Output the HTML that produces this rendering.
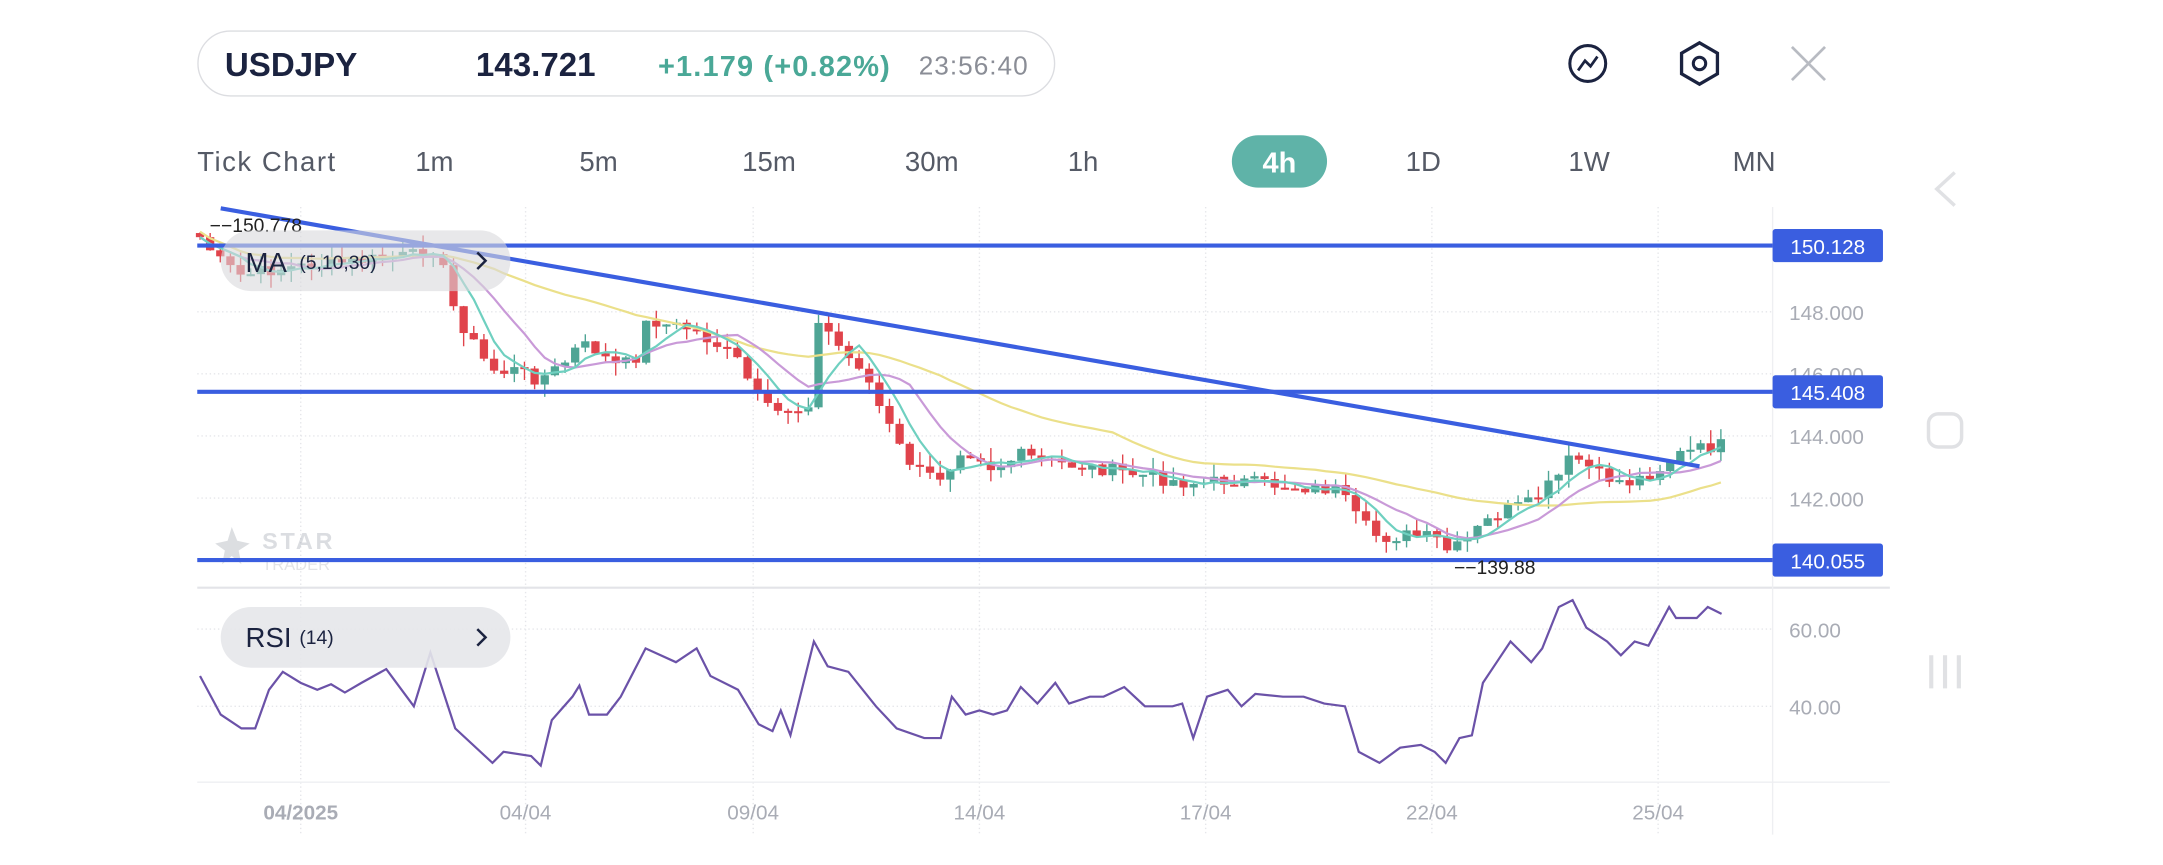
<!DOCTYPE html>
<html><head><meta charset="utf-8"><style>
html,body{margin:0;padding:0;background:#fff;}
svg{display:block;font-family:"Liberation Sans",sans-serif;}
</style></head><body>
<svg id="s" width="2163" height="865" viewBox="0 0 1568 627" xmlns="http://www.w3.org/2000/svg">
<rect width="1568" height="627" fill="#fff"/>
<rect x="143.5" y="22.5" width="621" height="47" rx="23.5" fill="#fff" stroke="#dcdde1"/>
<text x="163" y="55" font-size="24" font-weight="bold" fill="#1b2340">USDJPY</text>
<text x="345" y="55" font-size="24" font-weight="bold" fill="#1b2340">143.721</text>
<text x="477" y="55" font-size="21" font-weight="bold" fill="#4aa897" textLength="168">+1.179 (+0.82%)</text>
<text x="666" y="54" font-size="19" fill="#8a8d96" textLength="79">23:56:40</text>
<circle cx="1151" cy="46" r="13" fill="none" stroke="#1b2340" stroke-width="2.2"/>
<path d="M1144 51 L1149 44 L1153 48 L1158 41" fill="none" stroke="#1b2340" stroke-width="2"/>
<path d="M1232 31 L1245 38.5 L1245 53.5 L1232 61 L1219 53.5 L1219 38.5 Z" fill="none" stroke="#1b2340" stroke-width="2.4"/>
<circle cx="1232" cy="46" r="4.5" fill="none" stroke="#1b2340" stroke-width="2.2"/>
<path d="M1299 34 L1323 58 M1323 34 L1299 58" stroke="#b8bbc2" stroke-width="2"/>
<g font-size="20" fill="#555a66">
<text x="143" y="124" textLength="100">Tick Chart</text><text x="301" y="124">1m</text><text x="420" y="124">5m</text>
<text x="538" y="124">15m</text><text x="656" y="124">30m</text><text x="774" y="124">1h</text>
<text x="1019" y="124">1D</text><text x="1137" y="124">1W</text><text x="1256" y="124">MN</text></g>
<rect x="893" y="98" width="69" height="38" rx="19" fill="#5fb3a8"/>
<text x="927.5" y="125" font-size="21" font-weight="bold" fill="#fff" text-anchor="middle">4h</text>
<path d="M1417 125 L1404 137 L1417 149" fill="none" stroke="#e0e1e4" stroke-width="2.5"/>
<rect x="1398" y="300" width="24" height="24" rx="7" fill="none" stroke="#e0e1e4" stroke-width="2.5"/>
<path d="M1400 475 V499 M1410 475 V499 M1420 475 V499" stroke="#e0e1e4" stroke-width="3"/>
<g id="grid" stroke="#e5e6ea" stroke-dasharray="1,2" stroke-width="1"></g>
<line x1="143" y1="426" x2="1370" y2="426" stroke="#e3e4e8" stroke-width="1.5"/>
<line x1="143" y1="567" x2="1370" y2="567" stroke="#eeeff2"/>
<line x1="1285" y1="150" x2="1285" y2="605" stroke="#eeeff2"/>
<g font-size="15" fill="#a9acb5">
<text x="1297" y="232">148.000</text><text x="1297" y="277">146.000</text><text x="1297" y="322">144.000</text><text x="1297" y="367">142.000</text>
<text x="1297" y="462">60.00</text><text x="1297" y="518">40.00</text></g>
<g font-size="15" fill="#a9acb5" text-anchor="middle">
<text x="218" y="594" font-weight="bold">04/2025</text><text x="381" y="594">04/04</text><text x="546" y="594">09/04</text>
<text x="710" y="594">14/04</text><text x="874" y="594">17/04</text><text x="1038" y="594">22/04</text><text x="1202" y="594">25/04</text></g>
<g opacity="0.35"><text x="190" y="398" font-size="17" font-weight="bold" fill="#9aa0aa" letter-spacing="2">STAR</text>
<text x="190" y="413" font-size="12" fill="#b0b4bc">TRADER</text>
<path d="M168 382 L172 392 L181 394 L173 399 L175 409 L168 403 L161 409 L163 399 L156 394 L165 392Z" fill="#9aa0aa"/></g>
<g id="cd"></g>
<g id="ma"></g>
<line x1="143" y1="178" x2="1285" y2="178" stroke="#3a5ee0" stroke-width="3"/>
<line x1="143" y1="284" x2="1285" y2="284" stroke="#3a5ee0" stroke-width="3"/>
<line x1="143" y1="406" x2="1285" y2="406" stroke="#3a5ee0" stroke-width="3"/>
<line x1="160" y1="151" x2="1232" y2="338" stroke="#3a5ee0" stroke-width="3"/>
<g font-size="15" fill="#fff" text-anchor="middle">
<rect x="1285" y="166" width="80" height="24" rx="2" fill="#3a5ee0"/><text x="1325" y="184">150.128</text>
<rect x="1285" y="272" width="80" height="24" rx="2" fill="#3a5ee0"/><text x="1325" y="290">145.408</text>
<rect x="1285" y="394" width="80" height="24" rx="2" fill="#3a5ee0"/><text x="1325" y="412">140.055</text></g>
<text x="152" y="168" font-size="14" fill="#222">−−150.778</text>
<text x="1054" y="416" font-size="14" fill="#222">−−139.88</text>
<rect x="160" y="167" width="210" height="44" rx="22" fill="#d8d9dc" opacity="0.6"/>
<text x="178" y="197" font-size="20" fill="#1b2340">MA</text><text x="217" y="195" font-size="14" fill="#1b2340">(5,10,30)</text>
<path d="M346 183 L352 189 L346 195" fill="none" stroke="#1b2340" stroke-width="1.8"/>
<polyline id="rsi" fill="none" stroke="#6b52a8" stroke-width="1.6"/>
<rect x="160" y="440" width="210" height="44" rx="22" fill="#e6e7ea" opacity="0.9"/>
<text x="178" y="469" font-size="20" fill="#1b2340">RSI</text><text x="217" y="467" font-size="14" fill="#1b2340">(14)</text>
<path d="M346 456 L352 462 L346 468" fill="none" stroke="#1b2340" stroke-width="1.8"/>
</svg>
<script>
var NS="http://www.w3.org/2000/svg";
function el(p,t,a){var e=document.createElementNS(NS,t);for(var k in a)e.setAttribute(k,a[k]);p.appendChild(e);return e;}
var g=document.getElementById('grid');
[226,271,316,361,456,512].forEach(function(y){el(g,'line',{x1:143,y1:y,x2:1285,y2:y});});
[218,381,546,710,874,1038,1202].forEach(function(x){el(g,'line',{x1:x,y1:150,x2:x,y2:605});});
var K=[[145,172],[160,190],[175,200],[200,195],[250,190],[300,185],[318,178],[325,215],[335,235],[350,260],[360,270],[375,268],[390,275],[400,270],[410,262],[420,250],[430,252],[445,265],[460,262],[470,230],[480,235],[500,238],[520,250],[535,262],[550,290],[560,300],[575,295],[585,300],[592,235],[600,240],[615,260],[625,265],[635,290],[655,330],[670,345],[685,345],[695,325],[710,330],[720,340],[740,330],[760,335],[800,340],[830,345],[860,350],[875,350],[890,348],[930,352],[970,355],[985,378],[1000,390],[1020,388],[1040,390],[1050,400],[1060,395],[1075,380],[1090,370],[1110,365],[1130,345],[1140,330],[1160,345],[1180,350],[1200,342],[1215,330],[1235,325],[1250,322]];
function interp(P,x){for(var i=1;i<P.length;i++)if(x<=P[i][0]){var a=P[i-1],b=P[i];return a[1]+(b[1]-a[1])*(x-a[0])/(b[0]-a[0]);}return P[P.length-1][1];}
var seed=7;function rnd(){seed=(seed*9301+49297)%233280;return seed/233280;}
var cd=document.getElementById('cd'),cl=[],xs=[];
for(var x=145;x<=1250;x+=7.35){xs.push(x);cl.push(interp(K,x)+(rnd()-0.5)*10);}
var prev=cl[0]-3;
for(var i=0;i<cl.length;i++){var o=prev,c=cl[i],up=c<o,col=up?'#4fa595':'#e0434b';
var hi=Math.min(o,c)-rnd()*10,lo=Math.max(o,c)+rnd()*10;
el(cd,'line',{x1:xs[i],y1:hi,x2:xs[i],y2:lo,stroke:col,'stroke-width':1});
el(cd,'rect',{x:xs[i]-3,y:Math.min(o,c),width:6,height:Math.max(1.5,Math.abs(c-o)),fill:col});prev=c;}
function sma(n,off){var r=[];for(var i=0;i<cl.length;i++){var s=0,m=0;for(var j=Math.max(0,i-n+1);j<=i;j++){s+=cl[j];m++;}r.push(xs[i].toFixed(1)+','+(s/m+off).toFixed(1));}return r.join(' ');}
var ma=document.getElementById('ma');
el(ma,'polyline',{points:sma(30,-4),fill:'none',stroke:'#ebe08a','stroke-width':1.6});
el(ma,'polyline',{points:sma(10,0),fill:'none',stroke:'#c99ad8','stroke-width':1.6});
el(ma,'polyline',{points:sma(5,0),fill:'none',stroke:'#6fd0c0','stroke-width':1.6});
var R="145,490 160,518 175,528 185,528 195,500 205,487 218,495 230,500 240,496 250,502 262,495 280,485 300,512 312,473 330,528 357,553 365,545 385,548 392,555 400,522 415,505 420,497 427,518 440,518 450,505 468,470 490,480 505,470 515,490 535,500 550,525 560,530 566,515 573,533 590,465 600,483 615,487 635,512 650,528 670,535 682,535 690,505 700,518 710,515 720,518 730,515 740,498 752,510 765,495 775,510 790,505 800,505 815,498 830,512 850,512 857,510 865,535 875,505 890,500 900,512 910,503 930,505 945,505 960,510 975,512 985,545 1000,553 1015,542 1030,540 1040,545 1048,553 1058,535 1067,533 1075,495 1085,480 1095,465 1110,480 1118,470 1130,440 1140,435 1150,455 1165,465 1175,475 1185,465 1195,468 1210,440 1215,448 1230,448 1238,440 1248,445";
document.getElementById('rsi').setAttribute('points',R);
</script>
</body></html>
